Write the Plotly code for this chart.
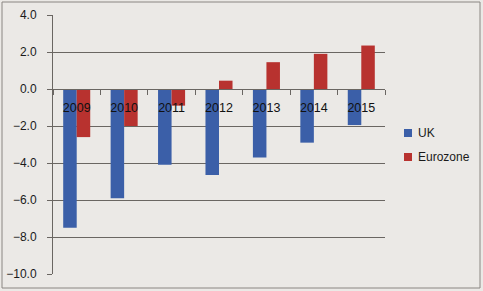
import plotly.graph_objects as go

years = ["2009", "2010", "2011", "2012", "2013", "2014", "2015"]
uk = [-7.5, -5.9, -4.1, -4.65, -3.7, -2.9, -1.95]
eurozone = [-2.6, -2.0, -0.9, 0.45, 1.45, 1.9, 2.35]
series_names = ["UK", "Eurozone"]
colors = ["#3b5fa8", "#b8322f"]
y_min, y_max, y_step = -10, 4, 2

W, H = 483, 291
ml, mr, mt, mb = 53, 98, 15, 17
pw, ph = W - ml - mr, H - mt - mb

def fx(px):
    return (px - ml) / pw

def fy(py):
    return (H - mb - py) / ph

grid = "#6a6662"
bg = "#ebe9e6"

fig = go.Figure()
for name, vals, col in zip(series_names, [uk, eurozone], colors):
    fig.add_trace(go.Bar(x=years, y=vals, name=name, marker_color=col,
                         marker_line_width=0, showlegend=False))

fig.update_layout(
    template="none",
    width=W, height=H,
    margin=dict(l=ml, r=mr, t=mt, b=mb, autoexpand=False),
    paper_bgcolor=bg, plot_bgcolor=bg,
    barmode="group", bargap=0.43, bargroupgap=0,
    showlegend=False,
    font=dict(family="Liberation Sans", size=12, color="#1a1a1a"),
    xaxis=dict(type="category", anchor="free", position=(0 - y_min) / (y_max - y_min),
               automargin=False, tickmode="linear", dtick=1, tick0=0,
               showline=True, linecolor=grid, linewidth=1,
               ticks="outside", ticklen=5, tickwidth=1, tickcolor=grid, tickson="boundaries",
               showgrid=False, zeroline=False, tickfont=dict(size=12.5, color="#111111"),
               ticklabelstandoff=7),
    yaxis=dict(range=[y_min, y_max], dtick=y_step, tick0=y_min, tickformat=".1f",
               automargin=False,
               showgrid=True, gridcolor=grid, gridwidth=1,
               showline=True, linecolor=grid, linewidth=1,
               ticks="outside", ticklen=5, tickwidth=1, tickcolor=grid,
               zeroline=False, ticklabelstandoff=8,
               tickfont=dict(size=12, color="#1a1a1a")),
)

# outer frame
fig.add_shape(type="rect", xref="paper", yref="paper",
              x0=fx(2), x1=fx(480), y0=fy(288), y1=fy(2),
              line=dict(color="#8a8682", width=1), fillcolor="rgba(0,0,0,0)", layer="below")

# legend
leg_y = [133, 157]
for name, col, py in zip(series_names, colors, leg_y):
    fig.add_shape(type="rect", xref="paper", yref="paper",
                  x0=fx(404), x1=fx(412), y0=fy(py + 4), y1=fy(py - 4),
                  fillcolor=col, line_width=0)
    fig.add_annotation(xref="paper", yref="paper", x=fx(416), y=fy(py),
                       text=name, showarrow=False, xanchor="left", yanchor="middle",
                       font=dict(size=12, color="#1a1a1a"))

fig.write_html("out.html")
